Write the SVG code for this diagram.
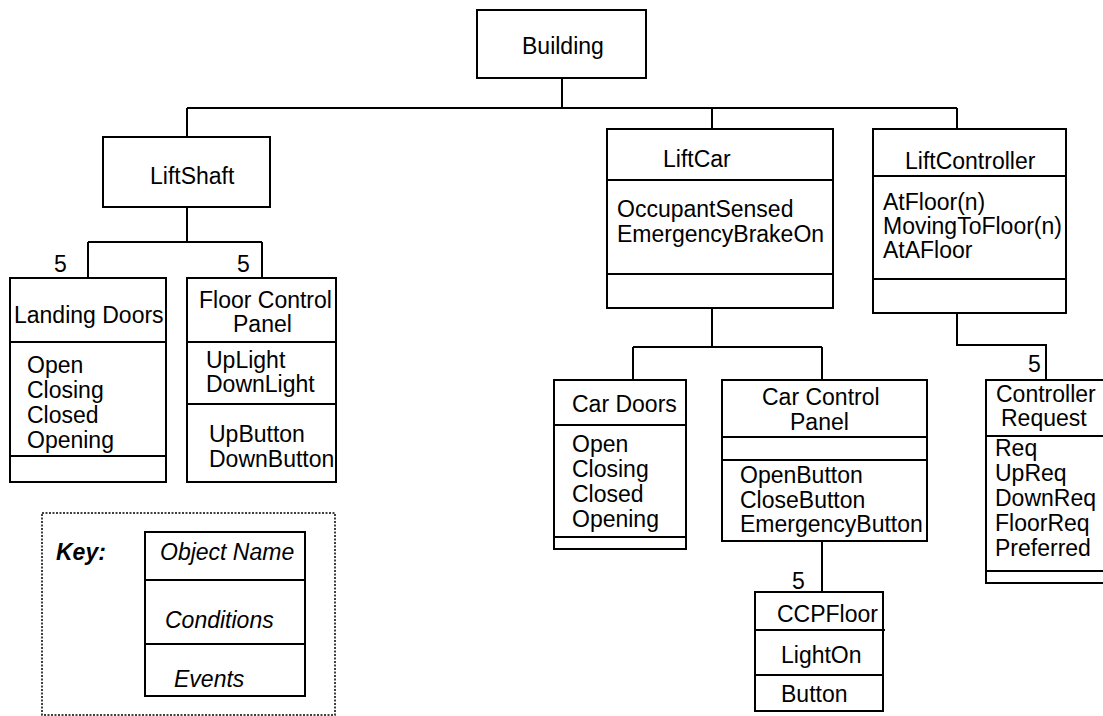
<svg xmlns="http://www.w3.org/2000/svg" width="1103" height="716" viewBox="0 0 1103 716">
<style>
  .box { fill: #fff; stroke: #000; stroke-width: 2; }
  .div { stroke: #000; stroke-width: 2; fill: none; }
  .con { stroke: #000; stroke-width: 2; fill: none; }
  text { font-family: "Liberation Sans", Arial, Helvetica, sans-serif; font-size: 23px; fill: #000; }
  .it { font-style: italic; }
  .key { font-style: italic; font-weight: bold; }
  .dot { fill: none; stroke: #000; stroke-width: 1.5; stroke-dasharray: 2 1.5; }
</style>
<rect width="1103" height="716" fill="#fff"/>
<g id="connectors">
  <path class="con" d="M562 78 V108 M187 108 H957 M187 108 V137 M712 108 V129 M957 108 V129"/>
  <path class="con" d="M187 207 V242 M88 242 H262 M88 242 V278 M262 242 V278"/>
  <path class="con" d="M712 308 V347 M633 347 H822 M633 347 V380 M822 347 V380"/>
  <path class="con" d="M822 541 V592"/>
  <path class="con" d="M957 313 V345 H1046 V380"/>
  <text x="54" y="272">5</text>
  <text x="237" y="272">5</text>
  <text x="792" y="589">5</text>
  <text x="1028" y="372">5</text>
</g>
<g id="building">
  <rect class="box" x="477" y="10" width="169" height="68"/>
  <text x="522" y="54">Building</text>
</g>
<g id="liftshaft">
  <rect class="box" x="103" y="137" width="167" height="70"/>
  <text x="150" y="184">LiftShaft</text>
</g>
<g id="landing-doors">
  <rect class="box" x="10" y="278" width="156" height="204"/>
  <path class="div" d="M10 342 H166 M10 456 H166"/>
  <text x="14" y="323">Landing Doors</text>
  <text x="27" y="373">Open</text>
  <text x="27" y="398">Closing</text>
  <text x="27" y="423">Closed</text>
  <text x="27" y="448">Opening</text>
</g>
<g id="floor-control-panel">
  <rect class="box" x="187" y="278" width="149" height="204"/>
  <path class="div" d="M187 342 H336 M187 404 H336"/>
  <text x="199" y="308">Floor Control</text>
  <text x="233" y="332">Panel</text>
  <text x="206" y="368">UpLight</text>
  <text x="206" y="392">DownLight</text>
  <text x="209" y="442">UpButton</text>
  <text x="209" y="467">DownButton</text>
</g>
<g id="liftcar">
  <rect class="box" x="607" y="129" width="226" height="179"/>
  <path class="div" d="M607 180 H833 M607 274 H833"/>
  <text x="663" y="167">LiftCar</text>
  <text x="617" y="217">OccupantSensed</text>
  <text x="617" y="242">EmergencyBrakeOn</text>
</g>
<g id="liftcontroller">
  <rect class="box" x="873" y="129" width="193" height="184"/>
  <path class="div" d="M873 176 H1066 M873 279 H1066"/>
  <text x="905" y="169">LiftController</text>
  <text x="883" y="210">AtFloor(n)</text>
  <text x="883" y="234">MovingToFloor(n)</text>
  <text x="883" y="258">AtAFloor</text>
</g>
<g id="car-doors">
  <rect class="box" x="554" y="380" width="132" height="169"/>
  <path class="div" d="M554 425 H686 M554 537 H686"/>
  <text x="572" y="412">Car Doors</text>
  <text x="572" y="452">Open</text>
  <text x="572" y="477">Closing</text>
  <text x="572" y="502">Closed</text>
  <text x="572" y="527">Opening</text>
</g>
<g id="car-control-panel">
  <rect class="box" x="722" y="380" width="205" height="161"/>
  <path class="div" d="M722 437 H927 M722 460 H927"/>
  <text x="762" y="405">Car Control</text>
  <text x="790" y="430">Panel</text>
  <text x="740" y="483">OpenButton</text>
  <text x="740" y="508">CloseButton</text>
  <text x="740" y="532">EmergencyButton</text>
</g>
<g id="ccpfloor">
  <rect class="box" x="755" y="592" width="128" height="119"/>
  <path class="div" d="M755 630 H885 M755 675 H883"/>
  <text x="777" y="622">CCPFloor</text>
  <text x="781" y="663">LightOn</text>
  <text x="781" y="702">Button</text>
</g>
<g id="controller-request">
  <rect class="box" x="986" y="380" width="130" height="203"/>
  <path class="div" d="M986 436 H1110 M986 571 H1110"/>
  <text x="996" y="402">Controller</text>
  <text x="1001" y="426">Request</text>
  <text x="995" y="456">Req</text>
  <text x="995" y="481">UpReq</text>
  <text x="995" y="506">DownReq</text>
  <text x="995" y="531">FloorReq</text>
  <text x="995" y="556">Preferred</text>
</g>
<g id="key">
  <rect class="dot" x="42" y="513" width="293" height="202"/>
  <text class="key" x="56" y="560">Key:</text>
  <rect class="box" x="145" y="532" width="160" height="164"/>
  <path class="div" d="M145 580 H305 M145 644 H305"/>
  <text class="it" x="160" y="560">Object Name</text>
  <text class="it" x="165" y="628">Conditions</text>
  <text class="it" x="174" y="687">Events</text>
</g>
</svg>
